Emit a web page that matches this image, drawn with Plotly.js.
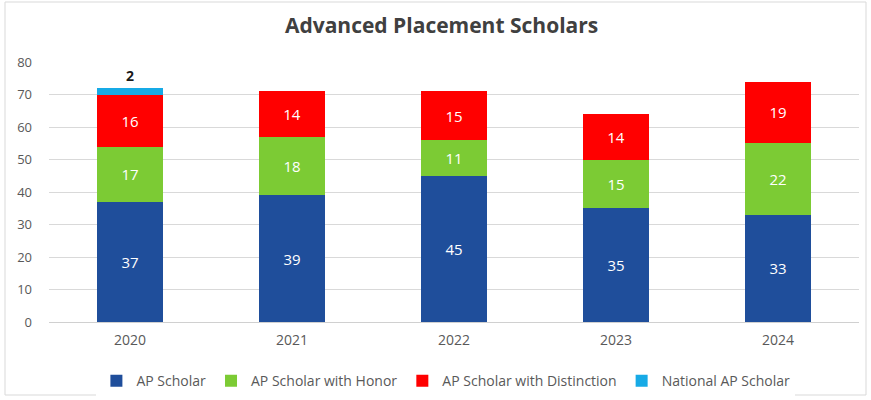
<!DOCTYPE html>
<html><head><meta charset="utf-8">
<script src="https://cdn.plot.ly/plotly-3.0.1.min.js"></script>
<style>html,body{margin:0;padding:0;background:#fff}#c{width:871px;height:400px}</style>
</head><body><div id="c"></div>
<script>
const years = ['2020','2021','2022','2023','2024'];
const apScholar = [37, 39, 45, 35, 33];
const apHonor = [17, 18, 11, 15, 22];
const apDistinction = [16, 14, 15, 14, 19];
const nationalAP = [2, 0, 0, 0, 0];
const seriesNames = ['AP Scholar','AP Scholar with Honor','AP Scholar with Distinction','National AP Scholar'];
const colors = ['#1f4e9b','#7ccb34','#ff0000','#17aae6'];

function lbl(v){ return v.map(x => x ? String(x) : ''); }
const mk = (vals, i, inside) => ({
  type:'bar', x: years, y: vals, name: seriesNames[i],
  marker:{color: colors[i]},
  text: lbl(vals), textposition: inside ? 'inside' : 'outside',
  insidetextanchor:'middle',
  textfont: inside ? {color:'#ffffff', size:15, family:'Open Sans, sans-serif'} : {color:'#1a1a1a', size:14, family:'Open Sans, sans-serif', weight:'bold'},
  cliponaxis:false, hoverinfo:'skip'
});
const data = [
  mk(apScholar,0,true), mk(apHonor,1,true), mk(apDistinction,2,true), mk(nationalAP,3,false)
];
const layout = {
  width:871, height:400, barmode:'stack', bargap:0.59,
  margin:{l:49, r:12, t:62, b:78, autoexpand:false},
  paper_bgcolor:'#fff', plot_bgcolor:'#fff',
  font:{family:'Open Sans, sans-serif', color:'#595959', size:13},
  title:{text:'<b>Advanced Placement Scholars</b>', x:0.507, xanchor:'center', y:0.937, yanchor:'middle', font:{size:21, color:'#404040'}},
  xaxis:{type:'category', showgrid:false, showline:false, ticks:'', tickfont:{size:14, color:'#595959'}, ticklabelstandoff:8},
  yaxis:{range:[0,80], dtick:10, showgrid:true, gridcolor:'#d9d9d9', gridwidth:1, zeroline:true, zerolinecolor:'#d0d0d0', showline:false, ticks:'', tickfont:{size:13, color:'#595959'}, ticklabelstandoff:16},
  legend:{orientation:'h', x:0.49, xanchor:'center', yref:'container', y:0.087, yanchor:'top', font:{size:14, color:'#595959'}, traceorder:'normal', itemwidth:30},
  shapes:[{type:'rect', xref:'paper', yref:'paper', x0:(5-49)/810, x1:(866-49)/810, y0:-(395-322)/260, y1:(322-2)/260, line:{color:'#d9d9d9', width:1}, fillcolor:'rgba(0,0,0,0)', layer:'below'}],
  showlegend:true
};
Plotly.newPlot('c', data, layout, {displayModeBar:false, staticPlot:true});
</script></body></html>
